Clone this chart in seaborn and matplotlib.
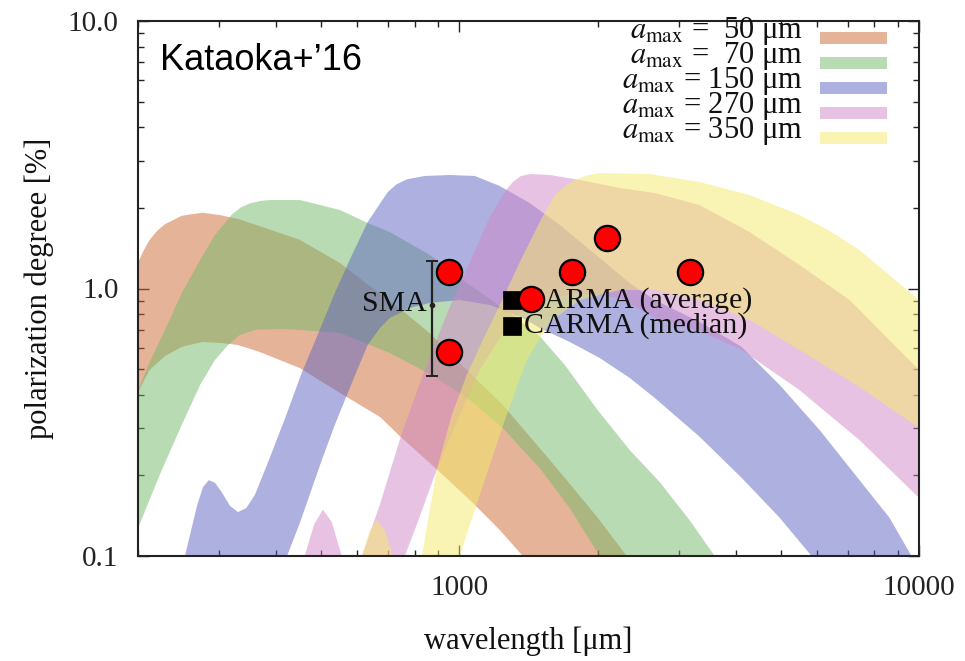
import numpy as np
import matplotlib
matplotlib.use("Agg")
import matplotlib.pyplot as plt
from matplotlib.patches import Rectangle
from matplotlib.ticker import LogLocator, NullFormatter
import pandas as pd
import seaborn as sns

# ---- model bands: upper / lower envelope of the polarization degree [%] ----
band_labels = ["50", "70", "150", "270", "350"]
band_colors = ["#CD6A32", "#73B969", "#5F65C3", "#D187C9", "#F5EB69"]

# a_max = 50 um
wl_50_up = [200, 205, 212, 220, 229, 249, 276, 302, 330, 368, 450, 550, 649, 750, 863, 1018, 1243, 1496, 1696, 2000, 2313]
pol_50_up = [1.245, 1.37, 1.52, 1.64, 1.74, 1.87, 1.92, 1.88, 1.82, 1.71, 1.52, 1.245, 1.00, 0.83, 0.68, 0.513, 0.367, 0.253, 0.196, 0.139, 0.100]
wl_50_lo = [200, 212, 229, 249, 276, 302, 330, 368, 450, 550, 672, 750, 907, 1070, 1225, 1374]
pol_50_lo = [0.410, 0.496, 0.559, 0.605, 0.631, 0.626, 0.615, 0.579, 0.504, 0.407, 0.331, 0.276, 0.206, 0.158, 0.125, 0.100]

# a_max = 70 um
wl_70_up = [200, 212, 229, 249, 273, 294, 320, 335, 350, 370, 387, 450, 550, 632, 706, 863, 1054, 1288, 1496, 1696, 2000, 2348, 2729, 3170, 3593]
pol_70_up = [0.417, 0.531, 0.700, 0.962, 1.278, 1.585, 1.890, 2.010, 2.080, 2.125, 2.142, 2.142, 1.966, 1.757, 1.626, 1.334, 1.031, 0.810, 0.664, 0.518, 0.351, 0.249, 0.189, 0.136, 0.100]
wl_70_lo = [200, 223, 249, 273, 294, 314, 333, 359, 407, 450, 550, 706, 863, 1054, 1243, 1496, 1739, 2020]
pol_70_lo = [0.127, 0.201, 0.309, 0.436, 0.540, 0.615, 0.670, 0.700, 0.706, 0.700, 0.682, 0.574, 0.479, 0.383, 0.301, 0.213, 0.151, 0.100]

# a_max = 150 um
wl_150_up = [253, 269, 277, 285, 294, 305, 317, 330, 344, 359, 384, 418, 454, 497, 536, 584, 632, 699, 730, 769, 841, 953, 1081, 1225, 1423, 1654, 2020, 2348, 2661, 3333, 4113, 4976, 6077, 7426, 8627, 9632]
pol_150_up = [0.100, 0.155, 0.181, 0.192, 0.188, 0.172, 0.154, 0.146, 0.151, 0.169, 0.225, 0.328, 0.483, 0.700, 0.962, 1.334, 1.773, 2.295, 2.450, 2.560, 2.634, 2.657, 2.634, 2.416, 2.087, 1.728, 1.300, 1.048, 0.906, 0.750, 0.605, 0.436, 0.296, 0.192, 0.139, 0.100]
wl_150_lo = [422, 450, 502, 536, 572, 602, 632, 672, 706, 781, 863, 1002, 1165, 1374, 1496, 1739, 2020, 2348, 2661, 3333, 4113, 4976, 5838]
pol_150_lo = [0.100, 0.133, 0.228, 0.309, 0.407, 0.504, 0.615, 0.712, 0.776, 0.846, 0.883, 0.906, 0.868, 0.776, 0.712, 0.631, 0.550, 0.463, 0.390, 0.279, 0.196, 0.139, 0.100]

# a_max = 270 um
wl_270_up = [461, 483, 505, 528, 555, 614, 672, 750, 841, 953, 1054, 1165, 1256, 1307, 1360, 1423, 1573, 1828, 2234, 2661, 3333, 4280, 5497, 7064, 10000]
pol_270_up = [0.100, 0.131, 0.149, 0.134, 0.100, 0.100, 0.156, 0.288, 0.496, 0.853, 1.256, 1.851, 2.300, 2.500, 2.630, 2.679, 2.657, 2.544, 2.375, 2.275, 2.051, 1.626, 1.224, 0.906, 0.496]
wl_270_lo = [761, 800, 893, 1002, 1108, 1225, 1354, 1573, 1828, 2234, 2661, 3333, 4113, 5497, 7426, 10000]
pol_270_lo = [0.100, 0.125, 0.210, 0.337, 0.496, 0.653, 0.810, 0.922, 0.962, 0.922, 0.776, 0.694, 0.589, 0.417, 0.271, 0.165]

# a_max = 350 um
wl_350_up = [614, 639, 662, 689, 717, 829, 893, 963, 1038, 1125, 1225, 1354, 1496, 1613, 1700, 1783, 1900, 2020, 2595, 3333, 4280, 5497, 6400, 7426, 10000]
pol_350_up = [0.100, 0.125, 0.136, 0.125, 0.100, 0.100, 0.210, 0.337, 0.475, 0.642, 0.868, 1.256, 1.773, 2.236, 2.420, 2.544, 2.650, 2.702, 2.679, 2.501, 2.236, 1.883, 1.640, 1.393, 0.906]
wl_350_lo = [1002, 1081, 1165, 1256, 1402, 1573, 1828, 2234, 2661, 3333, 4280, 5497, 7426, 10000]
pol_350_lo = [0.100, 0.149, 0.219, 0.322, 0.540, 0.750, 0.906, 0.987, 0.987, 0.906, 0.762, 0.589, 0.428, 0.301]

bands = [
    (wl_50_up, pol_50_up, wl_50_lo, pol_50_lo),
    (wl_70_up, pol_70_up, wl_70_lo, pol_70_lo),
    (wl_150_up, pol_150_up, wl_150_lo, pol_150_lo),
    (wl_270_up, pol_270_up, wl_270_lo, pol_270_lo),
    (wl_350_up, pol_350_up, wl_350_lo, pol_350_lo),
]

# ---- observations ----
obs_wl = [950, 950, 1430, 1755, 2095, 3170]
obs_pol = [1.15, 0.58, 0.915, 1.15, 1.54, 1.15]

carma_wl = [1300, 1300]
carma_pol = [0.905, 0.725]
carma_labels = ["CARMA (average)", "CARMA (median)"]

sma_wl = 870
sma_pol = 0.87
sma_err = 0.4

# ---- figure ----
sns.set_theme(style="ticks")
plt.rcParams["font.family"] = ["Liberation Serif", "DejaVu Serif"]
plt.rcParams["mathtext.fontset"] = "stix"

W, H = 965, 661
fig = plt.figure(figsize=(W / 100, H / 100), dpi=100)
ax = fig.add_axes([138 / W, 1 - 556 / H, (919 - 138) / W, (556 - 21) / H])
ax.set_xscale("log")
ax.set_yscale("log")
ax.set_xlim(200, 10000)
ax.set_ylim(0.1, 10)

for (wu, pu, wlo, plo), col in zip(bands, band_colors):
    xs = list(wu) + list(wlo)[::-1]
    ys = list(pu) + list(plo)[::-1]
    ax.fill(xs, ys, color=col, alpha=0.5, lw=0, zorder=1)

# SMA error bar
ax.errorbar([sma_wl], [sma_pol], yerr=[sma_err], fmt="o", ms=3, color="#222222",
            ecolor="#222222", elinewidth=1.6, capsize=4.5, capthick=1.4, zorder=3)
ax.text(sma_wl * 0.975, 0.875, "SMA", ha="right", va="center", fontsize=21.5, color="#111111", zorder=3)

# CARMA squares
carma_df = pd.DataFrame({"wl": carma_wl, "pol": carma_pol})
sns.scatterplot(data=carma_df, x="wl", y="pol", marker="s", s=150, color="black",
                edgecolor="black", linewidth=0.5, ax=ax, zorder=4, legend=False)
for w, p, lab in zip(carma_wl, carma_pol, carma_labels):
    ax.text(w * 1.065, p, lab, ha="left", va="center", fontsize=21.5, color="#111111", zorder=3)

# new measurements
obs_df = pd.DataFrame({"wl": obs_wl, "pol": obs_pol})
sns.scatterplot(data=obs_df, x="wl", y="pol", marker="o", s=330, color="#FF0000",
                edgecolor="black", linewidth=1.6, ax=ax, zorder=5, legend=False)

# axes styling
ax.set_xticks([1000, 10000])
ax.set_xticklabels(["1000", "10000"])
ax.xaxis.set_minor_locator(LogLocator(base=10, subs=np.arange(2, 10)))
ax.xaxis.set_minor_formatter(NullFormatter())
ax.set_yticks([0.1, 1, 10])
ax.set_yticklabels(["0.1", "1.0", "10.0"])
ax.yaxis.set_minor_locator(LogLocator(base=10, subs=np.arange(2, 10)))
ax.yaxis.set_minor_formatter(NullFormatter())
ax.tick_params(which="both", direction="in", top=True, right=True, colors="#222222",
               labelsize=21, width=1.0)
ax.tick_params(which="major", length=8)
ax.tick_params(which="minor", length=4)
ax.tick_params(axis="y", pad=14)
ax.tick_params(axis="x", pad=14)
for sp in ax.spines.values():
    sp.set_linewidth(1.5)
    sp.set_color("#222222")

ax.set_xlabel("wavelength [μm]", fontsize=22, labelpad=18, color="#111111")
ax.set_ylabel("polarization degreee [%]", fontsize=22, labelpad=10, color="#111111")

# legend, gnuplot style: label on the left, swatch on the right
leg_names = [r"$a_{\rm max}$" + " =  " + b + " μm" if len(b) == 2 else r"$a_{\rm max}$" + " = " + b + " μm"
             for b in band_labels]
for i, (name, col) in enumerate(zip(leg_names, band_colors)):
    yb = 38 + 25 * i
    fig.text(803 / W, 1 - yb / H, name, ha="right", va="baseline", fontsize=22, color="#111111")
    fig.patches.append(Rectangle((820 / W, 1 - (yb + 6) / H), 67 / W, 12 / H,
                                 transform=fig.transFigure, facecolor=col, alpha=0.5,
                                 edgecolor="none", figure=fig))

fig.text(160 / W, 1 - 70 / H, "Kataoka+’16", fontfamily=["Liberation Sans", "DejaVu Sans"],
         fontsize=26, ha="left", va="baseline", color="black")

fig.savefig("out.png", dpi=100, facecolor="white")
